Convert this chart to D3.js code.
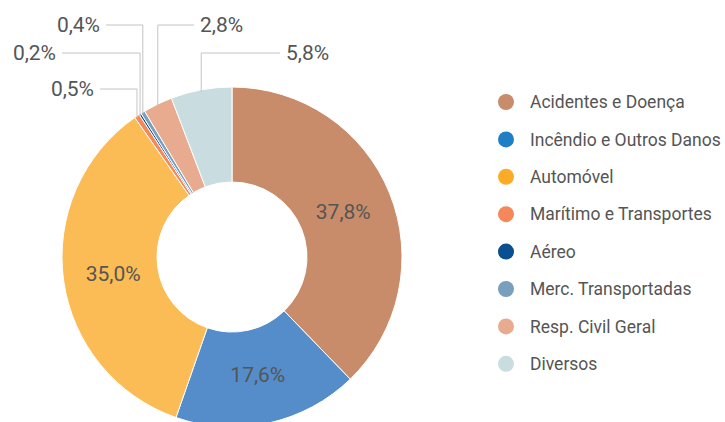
<!DOCTYPE html>
<html>
<head>
<meta charset="utf-8">
<script src="https://cdn.jsdelivr.net/npm/d3@7"></script>
<style>
  body { margin: 0; background: #fff; }
  svg text { font-family: Roboto, "Open Sans", sans-serif; fill: #555; }
</style>
</head>
<body>
<svg id="chart" width="725" height="422"></svg>
<script>
// data
var categories = ["Acidentes e Doença", "Incêndio e Outros Danos", "Automóvel", "Marítimo e Transportes",
                  "Aéreo", "Merc. Transportadas", "Resp. Civil Geral", "Diversos"];
var shares = [37.8, 17.6, 35.0, 0.5, 0.2, 0.4, 2.8, 5.8];
var shareLabels = ["37,8%", "17,6%", "35,0%", "0,5%", "0,2%", "0,4%", "2,8%", "5,8%"];

var sliceColors = ["#c98c6a", "#548dc9", "#fbbb55", "#f5875a", "#0a4f8f", "#789fbd", "#e8ab8f", "#c9dde0"];
var legendColors = ["#c98c6a", "#1f7fc4", "#fbab25", "#f5875a", "#0a4f8f", "#789fbd", "#e8ab8f", "#c9dde0"];

// which slices get an outside label: [index, label line y, end x of the line]
var outside = [[3, 89, 100], [4, 53, 62], [5, 25, 106], [6, 25, 194], [7, 53, 280]];

var cx = 232, cy = 257, outerR = 170, innerR = 75;

var svg = d3.select("#chart");
var g = svg.append("g").attr("transform", "translate(" + cx + "," + cy + ")");

var pie = d3.pie().sort(null).value(function(d) { return d; });
var arcs = pie(shares);
var arc = d3.arc().innerRadius(innerR).outerRadius(outerR);

g.selectAll("path.slice")
    .data(arcs)
    .enter().append("path")
    .attr("class", "slice")
    .attr("d", arc)
    .attr("fill", function(d, i) { return sliceColors[i]; })
    .attr("stroke", "#fff")
    .attr("stroke-width", 1);

// labels inside the big slices
var labelArc = d3.arc().innerRadius(120).outerRadius(120);
g.selectAll("text.inner")
    .data(arcs.filter(function(d) { return d.value > 10; }))
    .enter().append("text")
    .attr("class", "inner")
    .attr("transform", function(d) { return "translate(" + labelArc.centroid(d) + ")"; })
    .attr("text-anchor", "middle")
    .attr("dy", ".35em")
    .style("font-size", "21px")
    .text(function(d) { return shareLabels[d.index]; });

// leader lines for the small slices
outside.forEach(function(o) {
  var d = arcs[o[0]];
  var mid = (d.startAngle + d.endAngle) / 2;
  var px = cx + outerR * Math.sin(mid),
      py = cy - outerR * Math.cos(mid);
  var left = o[2] < px;
  svg.append("path")
      .attr("d", "M" + px + "," + (py + 2) + "L" + px + "," + o[1] + "L" + o[2] + "," + o[1])
      .attr("fill", "none")
      .attr("stroke", "#c4c4c4")
      .attr("stroke-width", 1);
  svg.append("text")
      .attr("x", left ? o[2] - 6 : o[2] + 6)
      .attr("y", o[1])
      .attr("dy", ".35em")
      .attr("text-anchor", left ? "end" : "start")
      .style("font-size", "21px")
      .text(shareLabels[o[0]]);
});

// legend
var legend = svg.append("g").attr("transform", "translate(506,102)");
var item = legend.selectAll("g")
    .data(categories)
    .enter().append("g")
    .attr("transform", function(d, i) { return "translate(0," + (i * 37.4) + ")"; });

item.append("circle")
    .attr("r", 8)
    .attr("fill", function(d, i) { return legendColors[i]; });

item.append("text")
    .attr("x", 24)
    .attr("dy", ".35em")
    .style("font-size", "17.5px")
    .text(function(d) { return d; });
</script>
</body>
</html>
